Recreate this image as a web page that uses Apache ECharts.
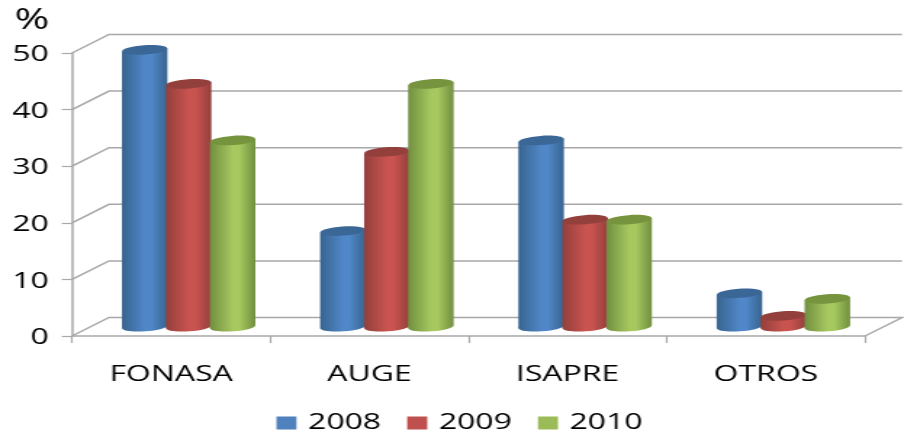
<!DOCTYPE html>
<html>
<head>
<meta charset="utf-8">
<style>
html,body{margin:0;padding:0;background:#fff;overflow:hidden;width:904px;height:434px}
#chart{width:623px;height:434px;transform:scaleX(1.451);transform-origin:0 0}
</style>
<script src="https://cdn.jsdelivr.net/npm/echarts@6/dist/echarts.min.js"></script>
</head>
<body>
<div id="chart"></div>
<script>
// Data
const categories = ['FONASA', 'AUGE', 'ISAPRE', 'OTROS'];
const seriesNames = ['2008', '2009', '2010'];
const values2008 = [49, 17, 33, 6];
const values2009 = [43, 31, 19, 2];
const values2010 = [33, 43, 19, 5];
const yTicks = [0, 10, 20, 30, 40, 50];

// Styles
const S = 1.451;               // the whole picture is stretched horizontally
const depthX = 37 / S, depthY = 18.5;
const font = 'Open Sans';
const palette = [
  {base: '#4f81bd', edge: '#38648f', mid: '#5087c8', top: '#3b6797'},
  {base: '#c0504d', edge: '#93403d', mid: '#c9534f', top: '#93403d'},
  {base: '#9bbb59', edge: '#718f40', mid: '#a6c85f', top: '#76933e'}
];
const gridColor = '#a8a8a8';

const grad = p => new echarts.graphic.LinearGradient(0, 0, 1, 0, [
  {offset: 0, color: p.edge}, {offset: 0.5, color: p.mid}, {offset: 0.65, color: p.mid}, {offset: 1, color: p.edge}
]);

function cylinder(seriesIndex) {
  const p = palette[seriesIndex];
  return function (params, api) {
    const v = api.value(1);
    const w = 45.5 / S, rx = w / 2, ry = 4.6, tilt = 1.6;
    const base = api.coord([api.value(0), 0]);
    const top = api.coord([api.value(0), v]);
    const cx = base[0] + (depthX - 2 / S) / 2 + (seriesIndex - 1) * (44 / S);
    const y0 = base[1] - depthY / 2, y1 = top[1] - depthY / 2 + 0.5;
    const fill = grad(p);
    const rot = Math.atan2(tilt * 2, w);
    return {
      type: 'group',
      children: [
        {type: 'ellipse', shape: {cx: cx, cy: y0, rx: rx, ry: ry}, rotation: rot, originX: cx, originY: y0, style: {fill: fill}},
        {type: 'polygon', shape: {points: [[cx - rx, y1 + tilt], [cx + rx, y1 - tilt], [cx + rx, y0 - tilt], [cx - rx, y0 + tilt]]}, style: {fill: fill}},
        {type: 'ellipse', shape: {cx: cx, cy: y1, rx: rx, ry: ry}, rotation: rot, originX: cx, originY: y1, style: {fill: p.top}}
      ]
    };
  };
}

function wall(params, api) {
  const g = params.coordSys;
  const pt = api.coord([0, api.value(1)]);
  const y = pt[1], xl = g.x, xr = g.x + g.width;
  const pts = [[xl, y], [xl + depthX, y - depthY], [xr + depthX, y - depthY]];
  if (api.value(1) === 0) pts.push([xr, y]);
  return {type: 'polyline', shape: {points: pts}, style: {fill: 'none', stroke: gridColor, lineWidth: 1.5}};
}

const toData = arr => arr.map((v, i) => [i, v]);

const chart = echarts.init(document.getElementById('chart'), null, {renderer: 'canvas', width: 623, height: 434});
chart.setOption({
  animation: false,
  backgroundColor: '#fff',
  title: {text: '%', left: 5, top: 1, textStyle: {fontFamily: font, fontSize: 29, fontWeight: 'normal', color: '#000'}},
  legend: {
    data: seriesNames, left: 185.5, top: 407, itemWidth: 13.8, itemHeight: 13, itemGap: 18, icon: 'rect',
    textStyle: {fontFamily: font, fontSize: 22, color: '#000', padding: [0, 0, 0, 3]}
  },
  grid: {left: 72 / S, top: 53, width: 793 / S, height: 283},
  xAxis: {
    type: 'category', data: categories,
    axisLine: {lineStyle: {color: gridColor, width: 1.5}},
    axisTick: {show: true, length: 7, lineStyle: {color: gridColor, width: 1.2}},
    axisLabel: {fontFamily: font, fontSize: 22, color: '#000', margin: 28}
  },
  yAxis: {
    type: 'value', min: 0, max: 50, interval: 10,
    axisLine: {show: true, lineStyle: {color: gridColor, width: 1.5}},
    axisTick: {show: true, length: 7, lineStyle: {color: gridColor, width: 1.2}},
    axisLabel: {fontFamily: font, fontSize: 22, color: '#000', margin: 16, verticalAlign: 'top', padding: [-9, 0, 0, 0]},
    splitLine: {show: false}
  },
  series: [
    {type: 'custom', name: 'wall', silent: true, renderItem: wall, data: yTicks.map(t => [0, t]), clip: false, z: 1},
    {type: 'custom', name: seriesNames[0], renderItem: cylinder(0), data: toData(values2008), itemStyle: {color: palette[0].base}, z: 2},
    {type: 'custom', name: seriesNames[1], renderItem: cylinder(1), data: toData(values2009), itemStyle: {color: palette[1].base}, z: 3},
    {type: 'custom', name: seriesNames[2], renderItem: cylinder(2), data: toData(values2010), itemStyle: {color: palette[2].base}, z: 4}
  ]
});
</script>
</body>
</html>
